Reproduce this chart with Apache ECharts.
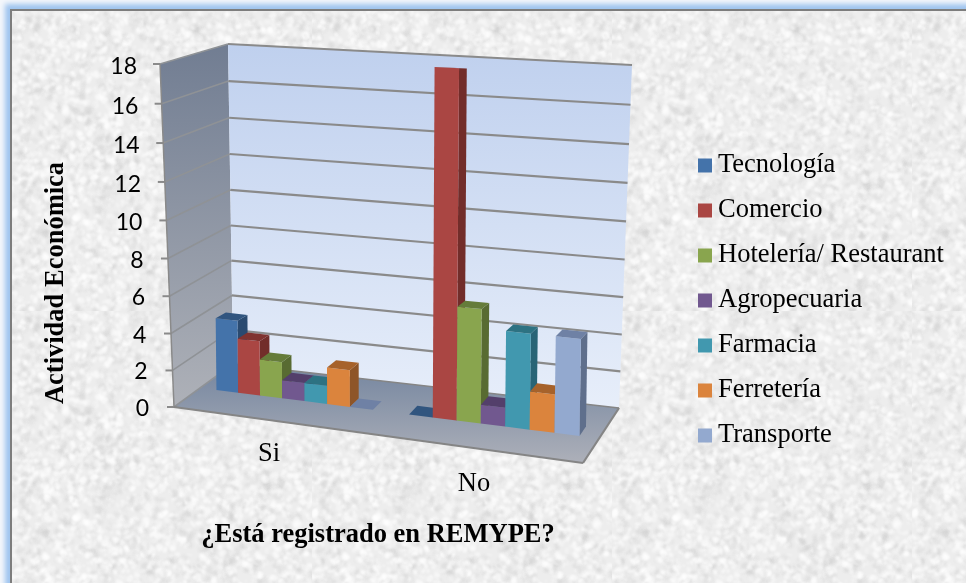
<!DOCTYPE html>
<html><head><meta charset="utf-8">
<style>
html,body{margin:0;padding:0;width:966px;height:583px;overflow:hidden;background:#f4f7fb}
#frame{position:absolute;left:10px;top:9px;width:1000px;height:640px;border:2px solid #7d7d7d;box-shadow:0 0 5px 5px #9fc4ef;background-color:#ededed}
#chart{position:absolute;left:0;top:0;width:966px;height:583px}
</style></head><body>
<div id="frame"></div><div id="chart"></div>
<script src="https://cdn.jsdelivr.net/npm/echarts@6/dist/echarts.min.js"></script>
<script>
const categories = ['Si', 'No'];
const tecnologia = [4, 0];
const comercio = [3, 18];
const hoteleria = [2, 6];
const agropecuaria = [1, 1];
const farmacia = [1, 5];
const ferreteria = [2, 2];
const transporte = [0, 5];
const yTicks = [0, 2, 4, 6, 8, 10, 12, 14, 16, 18];
const seriesNames = ['Tecnología', 'Comercio', 'Hotelería/ Restaurant', 'Agropecuaria', 'Farmacia', 'Ferretería', 'Transporte'];
const seriesValues = [tecnologia, comercio, hoteleria, agropecuaria, farmacia, ferreteria, transporte];
const faceColors = [
  ['#4473aa', '#31557f', '#2a4a70'],
  ['#aa4643', '#803330', '#722d2a'],
  ['#89a54e', '#657c3a', '#586b32'],
  ['#71588f', '#533f6b', '#4a3961'],
  ['#4198af', '#2d7282', '#296476'],
  ['#db843d', '#a6622b', '#8e5528'],
  ['#93a9cf', '#6f81a5', '#5f6f8c']
];

// perspective parameters of the 3-D box (screen layout, not data)
const GRID = {left: 166.5, top: 65, width: 410, height: 342};
const floorQ = {fl: [174, 407], fr: [583, 463], br: [619, 408], bl: [233, 364]};
const topQ = {fl: [160, 64], fr: [605, 97], br: [632, 65], bl: [228, 44]};
const Z0 = 0.445, Z1 = 0.62, BAR = 0.117;
const maxV = 18;
const warp = v => { const t = v / maxV; return maxV * t / (1.048 - 0.048 * t); };
const lerp = (a, b, k) => [a[0] + (b[0] - a[0]) * k, a[1] + (b[1] - a[1]) * k];
const bil = (q, u, z) => lerp(lerp(q.fl, q.fr, u), lerp(q.bl, q.br, u), z);
const warpU = u => -0.001 + 0.916 * u + 0.085 * u * u;

// texture
(function () {
  const c = document.createElement('canvas'); c.width = c.height = 300;
  const g = c.getContext('2d');
  g.fillStyle = '#ededed'; g.fillRect(0, 0, 300, 300);
  let s = 12345;
  const r = () => (s = (s * 1664525 + 1013904223) >>> 0) / 4294967296;
  g.filter = 'blur(1.2px)';
  for (let i = 0; i < 5200; i++) {
    const d = r() < 0.4;
    g.fillStyle = d ? 'rgba(200,200,200,' + (0.1 + r() * 0.25) + ')' : 'rgba(255,255,255,' + (0.25 + r() * 0.45) + ')';
    g.beginPath();
    g.ellipse(r() * 300, r() * 300, 1 + r() * 3, 1 + r() * 3, r() * 3, 0, 6.3);
    g.fill();
  }
  document.getElementById('frame').style.backgroundImage = 'url(' + c.toDataURL() + ')';
})();

const chart = echarts.init(document.getElementById('chart'), null, {renderer: 'canvas'});
const grad = (a, b) => new echarts.graphic.LinearGradient(0, 0, 0, 1, [{offset: 0, color: a}, {offset: 1, color: b}]);
const poly = (pts, style, z2) => ({type: 'polygon', shape: {points: pts}, style, z2: z2 || 0, silent: true});
const line = (a, b, color, w) => ({type: 'line', shape: {x1: a[0], y1: a[1], x2: b[0], y2: b[1]}, style: {stroke: color, lineWidth: w, fill: null}, silent: true});

function renderBox(params, api) {
  const y0 = api.coord([0, 0])[1], yM = api.coord([0, maxV])[1];
  const frac = v => (y0 - api.coord([0, warp(v)])[1]) / (y0 - yM);
  const at = (u, z, v) => lerp(bil(floorQ, u, z), bil(topQ, u, z), frac(v));
  const ch = [];
  ch.push(poly([floorQ.fl, floorQ.bl, topQ.bl, topQ.fl], {fill: grad('#717d92', '#aeb1b8')}));
  ch.push(poly([floorQ.bl, floorQ.br, topQ.br, topQ.bl], {fill: grad('#bfd0ee', '#e7eefa')}));
  ch.push(poly([floorQ.fl, floorQ.fr, floorQ.br, floorQ.bl], {fill: grad('#74859f', '#adb0b9')}));
  yTicks.forEach(v => {
    const a = at(0, 0, v), b = at(0, 1, v), c = at(1, 1, v);
    ch.push(line(a, b, '#8f9296', 1.6));
    if (v > 0) ch.push(line(b, c, '#8a8a8a', 2.2));
    ch.push(line([a[0] - 7, a[1]], a, '#8a8a8a', 2));
  });
  ch.push(line(topQ.fl, floorQ.fl, '#8a8a8a', 1.5));
  ch.push(line(floorQ.fl, floorQ.fr, '#858585', 2.2));
  ch.push(line(floorQ.fr, floorQ.br, '#858585', 2.2));
  ch.push(line(floorQ.bl, floorQ.br, '#858585', 1.5));
  return {type: 'group', children: ch};
}

function makeBar(si) {
  return function (params, api) {
    const cat = api.value(0), val = api.value(1);
    const c = api.coord([cat, 0]);
    const band = api.size([1, 0])[0] / GRID.width;
    const y0 = c[1], yM = api.coord([cat, maxV])[1];
    const t = (y0 - api.coord([cat, warp(val)])[1]) / (y0 - yM);
    const uc = (c[0] - GRID.left) / GRID.width;
    const u0 = uc + (si - 3.5) * band * BAR, u1 = u0 + band * BAR;
    const pt = (nu, z, top) => {
      const u = warpU(nu), p = bil(floorQ, u, z);
      if (!top) return p;
      const H = (333 + 30 * u) * (1 - (z - Z0) * 0.15);
      return [p[0] + t * (-4 + 10 * u), p[1] - t * H];
    };
    const fb0 = pt(u0, Z0), fb1 = pt(u1, Z0), bb1 = pt(u1, Z1);
    const ft0 = pt(u0, Z0, 1), ft1 = pt(u1, Z0, 1), bt0 = pt(u0, Z1, 1), bt1 = pt(u1, Z1, 1);
    const col = faceColors[si];
    const ch = [];
    if (val > 0) {
      ch.push(poly([fb1, bb1, bt1, ft1], {fill: col[2]}));
      ch.push(poly([fb0, fb1, ft1, ft0], {fill: col[0]}));
    }
    ch.push(poly([ft0, ft1, bt1, bt0], {fill: col[1]}));
    return {type: 'group', children: ch};
  };
}

const serifFont = '"Liberation Serif","Times New Roman",serif';
const textSize = 26.5;
const tickRich = {};
yTicks.forEach(v => {
  tickRich['t' + v] = {fontFamily: 'Lato', fontSize: 23, color: '#000', padding: [3, 10.5 + 12 * v / maxV, 0, 0]};
});

chart.setOption({
  animation: false,
  backgroundColor: 'transparent',
  grid: {left: GRID.left, top: GRID.top, width: GRID.width, height: GRID.height, containLabel: false},
  legend: {
    left: 693, top: 147, orient: 'vertical', icon: 'rect', itemWidth: 14, itemHeight: 14, itemGap: 18,
    data: seriesNames, selectedMode: false,
    textStyle: {fontFamily: serifFont, fontSize: textSize, color: '#000', padding: [0, 0, 0, 1]}
  },
  xAxis: {
    type: 'category', data: categories,
    axisLine: {show: false}, axisTick: {show: false}, splitLine: {show: false},
    axisLabel: {
      margin: 34, interval: 0,
      formatter: v => v === 'No' ? '{n|No}' : '{s|Si}',
      rich: {
        s: {fontFamily: serifFont, fontSize: textSize, color: '#000'},
        n: {fontFamily: serifFont, fontSize: textSize, color: '#000', padding: [30, 0, 0, 0]}
      }
    },
    name: '¿Está registrado en REMYPE?', nameLocation: 'middle', nameGap: 115,
    nameTextStyle: {fontFamily: serifFont, fontSize: textSize, fontWeight: 'bold', color: '#000', padding: [0, 0, 0, 13]}
  },
  yAxis: {
    type: 'value', min: 0, max: maxV,
    axisLine: {show: false}, axisTick: {show: false}, splitLine: {show: false},
    axisLabel: {
      margin: 7, customValues: yTicks.map(warp),
      formatter: v => { const n = Math.round(v / 2) * 2; return '{t' + n + '|' + n + '}'; },
      rich: tickRich
    },
    name: 'Actividad Económica', nameLocation: 'middle', nameGap: 97, nameRotate: 90,
    nameTextStyle: {fontFamily: serifFont, fontSize: textSize, fontWeight: 'bold', color: '#000', padding: [0, 94, 0, 0]}
  },
  series: [
    {type: 'custom', name: '_box', coordinateSystem: 'cartesian2d', clip: false, silent: true, z: 1,
     renderItem: renderBox, data: [[0, 0]], encode: {x: 0, y: 1}, tooltip: {show: false}}
  ].concat(seriesNames.map((name, si) => ({
    type: 'custom', name, coordinateSystem: 'cartesian2d', clip: false, z: 2 + si,
    itemStyle: {color: faceColors[si][0]},
    renderItem: makeBar(si), encode: {x: 0, y: 1},
    data: categories.map((_, i) => [i, seriesValues[si][i]])
  })))
});
</script></body></html>
